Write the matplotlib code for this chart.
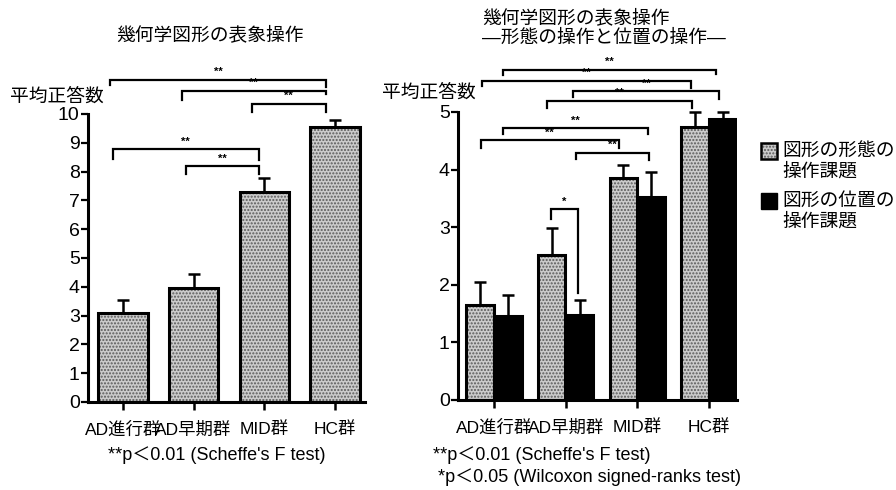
import matplotlib
matplotlib.use("Agg")
import matplotlib.pyplot as plt
from matplotlib.patches import Rectangle
from matplotlib.transforms import ScaledTranslation

plt.rcParams['font.family'] = ['Liberation Sans', 'Noto Sans CJK JP', 'DejaVu Sans']

# ---------------- data ----------------
groups = ['AD進行群', 'AD早期群', 'MID群', 'HC群']

left_means = [3.1, 3.95, 7.28, 9.55]
left_err = [0.45, 0.5, 0.5, 0.24]

form_means = [1.65, 2.52, 3.86, 4.74]
form_err = [0.4, 0.47, 0.22, 0.26]
pos_means = [1.46, 1.47, 3.53, 4.87]
pos_err = [0.36, 0.27, 0.42, 0.13]

left_yticks = list(range(0, 11))
right_yticks = list(range(0, 6))

# significance brackets: (x1, x2, y, drop_left, drop_right, label)
left_brackets = [
    (-0.18, 2.87, 11.18, 0.17, 0.24, '**'),
    (0.83, 2.87, 10.80, 0.30, 0.10, '**'),
    (1.82, 2.87, 10.35, 0.27, 0.27, '**'),
    (-0.14, 1.92, 8.78, 0.35, 0.37, '**'),
    (0.89, 1.92, 8.19, 0.28, 0.28, '**'),
]
right_brackets = [
    (0.13, 3.10, 5.73, 0.09, 0.07, '**'),
    (-0.17, 2.75, 5.54, 0.09, 0.12, '**'),
    (1.10, 3.14, 5.36, 0.10, 0.13, '**'),
    (0.74, 2.76, 5.19, 0.12, 0.12, '**'),
    (0.13, 2.15, 4.72, 0.10, 0.10, '**'),
    (-0.18, 1.74, 4.51, 0.13, 0.13, '**'),
    (1.14, 2.16, 4.29, 0.10, 0.13, '**'),
    (0.80, 1.17, 3.31, 0.17, 1.45, '*'),
]

title_left = '幾何学図形の表象操作'
title_right = '幾何学図形の表象操作\n―形態の操作と位置の操作―'
ylabel = '平均正答数'
legend_labels = ['図形の形態の\n操作課題', '図形の位置の\n操作課題']
note_left = "**p＜0.01 (Scheffe's F test)"
note_right1 = "**p＜0.01 (Scheffe's F test)"
note_right2 = " *p＜0.05 (Wilcoxon signed-ranks test)"

# ---------------- style ----------------
STIP_FACE = '#cbcbcb'
STIP_DOT = '#5a5a5a'
LW = 2.2
FS = 13.5
LABEL_SHIFT_PX = [-2, 7, 5, 0]   # small horizontal nudges of x labels

fig = plt.figure(figsize=(8.96, 4.9), dpi=100)
ax1 = fig.add_axes([0.0982, 0.1796, 0.3092, 0.6818])
ax2 = fig.add_axes([0.5112, 0.1837, 0.3114, 0.6936])


def stipple_bars(ax, x, h, w):
    ax.bar(x, h, w, facecolor=STIP_FACE, edgecolor=STIP_DOT, hatch='.....',
           linewidth=0, zorder=2)
    ax.bar(x, h, w, fill=False, edgecolor='black', linewidth=LW, zorder=3)


def err_up(ax, x, m, e):
    ax.errorbar(x, m, yerr=[[0] * len(m), e], fmt='none', ecolor='black',
                elinewidth=1.8, capsize=4, capthick=1.8, zorder=4)


def brackets(ax, items):
    for x1, x2, y, d1, d2, lab in items:
        ax.plot([x1, x1, x2, x2], [y - d1, y, y, y - d2], color='black',
                lw=1.6, clip_on=False, solid_joinstyle='miter', zorder=5)
        ax.text((x1 + x2) / 2, y + 0.008 * ax.get_ylim()[1], lab, ha='center',
                va='bottom', fontsize=8, fontweight='bold')


def style_axes(ax, ymax, ticks, n):
    ax.set_ylim(0, ymax)
    ax.set_yticks(ticks)
    ax.set_yticklabels([str(t) for t in ticks], fontsize=14)
    ax.set_xticks(range(n))
    ax.set_xticklabels(groups, fontsize=12.5)
    for lab, dx in zip(ax.get_xticklabels(), LABEL_SHIFT_PX):
        lab.set_transform(lab.get_transform() +
                          ScaledTranslation(dx / 100, 0, fig.dpi_scale_trans))
    for s in ['top', 'right']:
        ax.spines[s].set_visible(False)
    ax.spines['left'].set_bounds(0, ticks[-1])
    ax.spines['left'].set_linewidth(LW)
    ax.spines['bottom'].set_linewidth(LW)
    ax.tick_params(axis='y', direction='out', length=5, width=1.6, pad=1)
    ax.tick_params(axis='x', direction='out', length=6, width=1.8, pad=8)


# ---------------- left panel ----------------
xl = list(range(len(groups)))
stipple_bars(ax1, xl, left_means, 0.70)
err_up(ax1, xl, left_means, left_err)
ax1.set_xlim(-0.49, 3.42)
style_axes(ax1, 11.6, left_yticks, len(groups))
brackets(ax1, left_brackets)

# ---------------- right panel ----------------
off = 0.195
bw = 0.385
xf = [i - off for i in xl]
xp = [i + off for i in xl]
stipple_bars(ax2, xf, form_means, bw)
ax2.bar(xp, pos_means, bw, color='black', edgecolor='black', linewidth=LW, zorder=3)
err_up(ax2, xf, form_means, form_err)
err_up(ax2, xp, pos_means, pos_err)
ax2.set_xlim(-0.50, 3.39)
style_axes(ax2, 5.9, right_yticks, len(groups))
brackets(ax2, right_brackets)

# ---------------- texts ----------------
fig.text(0.234, 0.929, title_left, ha='center', va='center', fontsize=FS)
fig.text(0.538, 0.943, title_right, ha='left', va='center', fontsize=FS,
         linespacing=1.2)
fig.text(0.011, 0.802, ylabel, ha='left', va='center', fontsize=FS)
fig.text(0.426, 0.810, ylabel, ha='left', va='center', fontsize=FS)
fig.text(0.242, 0.0714, note_left, ha='center', va='center', fontsize=13)
fig.text(0.483, 0.0714, note_right1, ha='left', va='center', fontsize=13)
fig.text(0.483, 0.0265, note_right2, ha='left', va='center', fontsize=13)

# legend (manual, square aligned with first line)
W, H = 896.0, 490.0
leg_rows = [(151, 172), (201, 222)]
for i, (lab, (y1, y2)) in enumerate(zip(legend_labels, leg_rows)):
    sq = 16
    if i == 0:
        r1 = Rectangle((761 / W, (H - y1 - sq / 2) / H), sq / W, sq / H,
                       transform=fig.transFigure, facecolor=STIP_FACE,
                       edgecolor=STIP_DOT, hatch='.....', linewidth=0)
        r2 = Rectangle((761 / W, (H - y1 - sq / 2) / H), sq / W, sq / H,
                       transform=fig.transFigure, fill=False,
                       edgecolor='black', linewidth=1.8)
        fig.add_artist(r1)
        fig.add_artist(r2)
    else:
        r = Rectangle((761 / W, (H - y1 - sq / 2) / H), sq / W, sq / H,
                      transform=fig.transFigure, facecolor='black',
                      edgecolor='black', linewidth=1.0)
        fig.add_artist(r)
    l1, l2 = lab.split('\n')
    fig.text(782 / W, (H - y1) / H, l1, ha='left', va='center', fontsize=FS)
    fig.text(782 / W, (H - y2) / H, l2, ha='left', va='center', fontsize=FS)

fig.savefig('out.png', dpi=100, facecolor='white')
